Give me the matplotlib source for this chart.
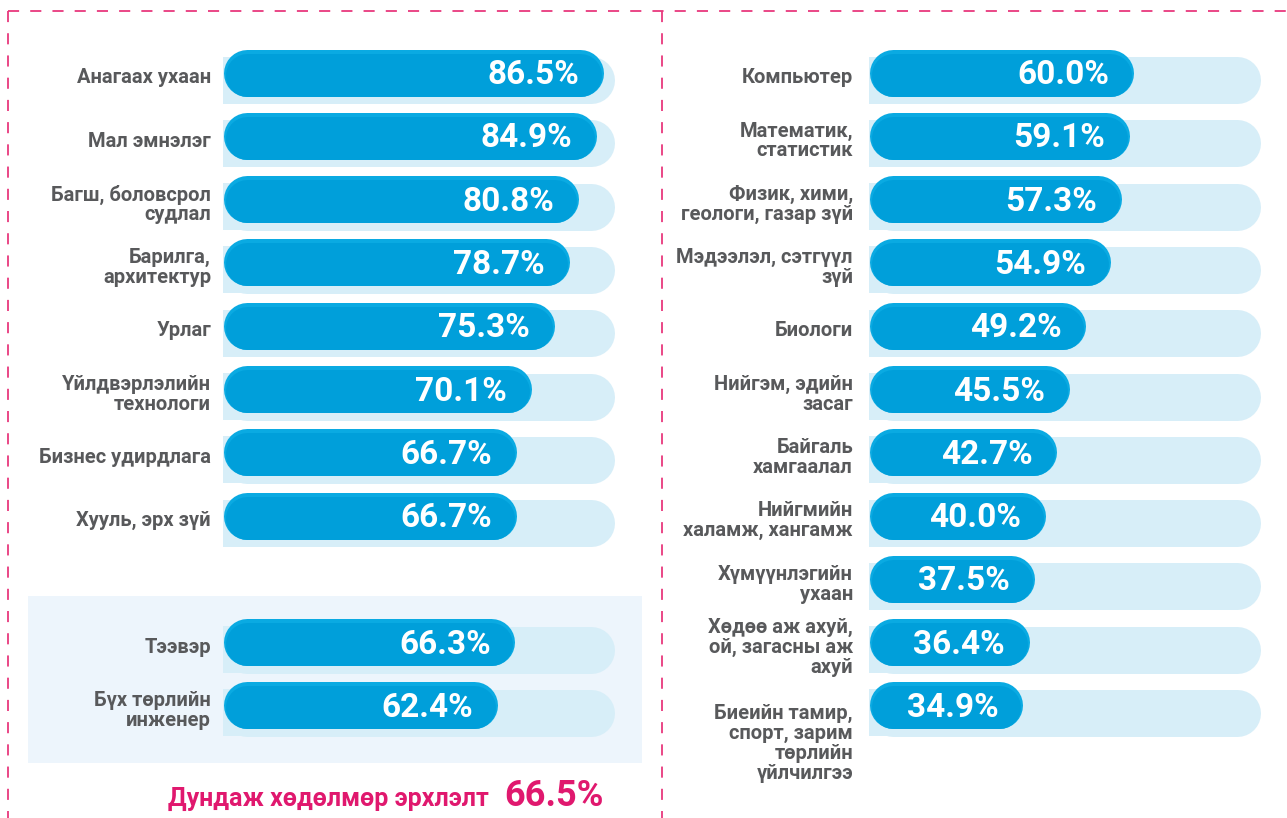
import matplotlib
matplotlib.use("Agg")
import matplotlib.pyplot as plt
import matplotlib.transforms as mtransforms
from matplotlib.lines import Line2D
from matplotlib.patches import Rectangle

plt.rcParams['font.family'] = ['Roboto', 'DejaVu Sans']
plt.rcParams['lines.scale_dashes'] = False

# data
left_labels = ["Анагаах ухаан", "Мал эмнэлэг", "Багш, боловсрол\nсудлал",
               "Барилга,\nархитектур", "Урлаг", "Үйлдвэрлэлийн\nтехнологи",
               "Бизнес удирдлага", "Хууль, эрх зүй", "Тээвэр",
               "Бүх төрлийн\nинженер"]
left_values = [86.5, 84.9, 80.8, 78.7, 75.3, 70.1, 66.7, 66.7, 66.3, 62.4]
left_rows = [0, 1, 2, 3, 4, 5, 6, 7, 9, 10]

right_labels = ["Компьютер", "Математик,\nстатистик", "Физик, хими,\nгеологи, газар зүй",
                "Мэдээлэл, сэтгүүл\nзүй", "Биологи", "Нийгэм, эдийн\nзасаг",
                "Байгаль\nхамгаалал", "Нийгмийн\nхаламж, хангамж",
                "Хүмүүнлэгийн\nухаан", "Хөдөө аж ахуй,\nой, загасны аж\nахуй",
                "Биеийн тамир,\nспорт, зарим\nтөрлийн\nүйлчилгээ"]
right_values = [60.0, 59.1, 57.3, 54.9, 49.2, 45.5, 42.7, 40.0, 37.5, 36.4, 34.9]
right_rows = list(range(len(right_values)))

avg_label = "Дундаж хөдөлмөр эрхлэлт"
avg_value = 66.5
TRACK_MAX = 89

BAR_C = "#009FDA"
BAR_TOP_C = "#0AAAE2"
TRACK_C = "#D7EEF8"
LABEL_C = "#58595B"
PINK = "#E0186E"
DASH_C = "#E8387D"

W, H, DPI = 1287, 818, 100
PX_PER_UNIT = 4.4
ROW_PX = 63.3
ROW0_PX = 72.5
BAR_PX = 47
AX_W = 410

fig = plt.figure(figsize=(W / DPI, H / DPI), dpi=DPI)


def px_axes(left, top, width, height):
    return fig.add_axes([left / W, 1 - (top + height) / H, width / W, height / H])


def draw_panel(ax, labels, values, rows, pad):
    ax.set_xlim(0, AX_W / PX_PER_UNIT)
    ax.set_ylim(11.0, -0.7)
    ax.axis('off')
    r = BAR_PX / 2 / PX_PER_UNIT
    lw = BAR_PX * 72 / DPI
    lw_in = (BAR_PX - 4) * 72 / DPI
    h = BAR_PX / ROW_PX
    dy = 7.5 / ROW_PX
    lab_tr = mtransforms.offset_copy(ax.transData, fig=fig, x=-pad, y=0, units='dots')
    for lab, v, y in zip(labels, values, rows):
        # light track behind, square left end, round right end
        ax.barh(y + dy, 2 * r, height=h, left=0, color=TRACK_C, lw=0, zorder=1)
        ax.plot([r, TRACK_MAX - r], [y + dy, y + dy], color=TRACK_C, lw=lw,
                solid_capstyle='round', zorder=1, clip_on=False)
        # bar: lighter rim on top, main colour below
        ax.plot([r, v - r], [y, y], color=BAR_TOP_C, lw=lw,
                solid_capstyle='round', zorder=2, clip_on=False)
        ax.plot([r, v - r], [y + 2 / ROW_PX, y + 2 / ROW_PX], color=BAR_C, lw=lw_in,
                solid_capstyle='round', zorder=2, clip_on=False)
        ax.text(v - 5.5, y + 0.04, f"{v:.1f}%", color="white", fontsize=24,
                fontweight='bold', ha='right', va='center', zorder=3)
        # long labels hang down from the bar centre, others sit centred
        if lab.count("\n") >= 3:
            ly, va = y - 0.02, 'top'
        else:
            ly, va = y + dy * 0.7, 'center'
        ax.text(0, ly, lab, transform=lab_tr, color=LABEL_C,
                fontsize=14.5, fontweight='bold', ha='right', va=va,
                multialignment='right', linespacing=1.05)


top_px = ROW0_PX - 0.7 * ROW_PX
ax_h = 11.7 * ROW_PX
ax_l = px_axes(223, top_px, AX_W, ax_h)
ax_r = px_axes(869, top_px, AX_W, ax_h)
draw_panel(ax_l, left_labels, left_values, left_rows, 12)
draw_panel(ax_r, right_labels, right_values, right_rows, 16)

# shaded block behind the last two left rows
fig.add_artist(Rectangle((28 / W, 1 - 763 / H), (642 - 28) / W, (763 - 596) / H,
                         transform=fig.transFigure, color="#EDF5FC", lw=0, zorder=-1))

# pink dashed frame
for xs, ys in [([8, W], [11, 11]), ([8, 8], [11, H]), ([662, 662], [11, H])]:
    fig.add_artist(Line2D([x / W for x in xs], [1 - y / H for y in ys],
                          transform=fig.transFigure, color=DASH_C, lw=1.3,
                          linestyle=(0, (8, 8))))

# average line at the bottom
fig.text(168 / W, 1 - 806 / H, avg_label, color=PINK, fontsize=18,
         fontweight='bold', ha='left', va='baseline')
fig.text(504 / W, 1 - 806 / H, f"{avg_value:.1f}%", color=PINK, fontsize=26,
         fontweight='bold', ha='left', va='baseline')

fig.savefig("out.png", dpi=DPI)
